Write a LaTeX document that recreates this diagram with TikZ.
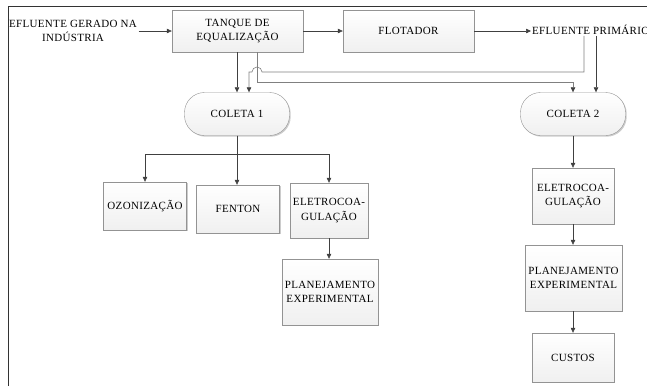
\documentclass[tikz,border=0pt]{standalone}
\usepackage{fontspec}
\setmainfont{Liberation Serif}[LetterSpace=3]
\usetikzlibrary{arrows.meta,shadows}
\begin{document}
\begin{tikzpicture}[x=1pt,y=-1pt,
	every node/.style={font=\fontsize{11}{14.5}\selectfont,align=center,inner sep=1.5pt},
	box/.style={draw=gray!85,top color=white,bottom color=gray!12,
		drop shadow={shadow xshift=1.2pt,shadow yshift=-1.2pt,fill=gray!40,opacity=1}},
	coleta/.style={box,rounded corners=20pt,minimum width=105pt,minimum height=43pt},
	arr/.style={draw=black!75,line width=0.6pt,-{Triangle[length=5pt,width=4.5pt]}},
	garr/.style={draw=gray,line width=0.6pt,-{Triangle[length=5pt,width=4.5pt,color=black!75]}}]
\useasboundingbox (0,0) rectangle (647,386);
% moldura
\draw[black!80,line width=0.8pt] (8,386) -- (8,6) -- (647,6);
% linha de cima
\node (gerado) at (73,31) {EFLUENTE GERADO NA\\INDÚSTRIA};
\node[box,minimum width=131pt,minimum height=42pt] (tanque) at (237.5,31) {TANQUE DE\\EQUALIZAÇÃO};
\node[box,minimum width=131pt,minimum height=42pt] (flotador) at (408.5,31) {FLOTADOR};
\node[anchor=west,inner sep=1pt] (primario) at (531,30) {EFLUENTE PRIMÁRIO};
% coletas
\node[coleta] (coleta1) at (237,114) {COLETA 1};
\node[coleta] (coleta2) at (573,114) {COLETA 2};
% ramo 1
\node[box,minimum width=83pt,minimum height=48pt] (ozonio) at (145,206) {OZONIZAÇÃO};
\node[box,minimum width=83pt,minimum height=48pt] (fenton) at (238,209) {FENTON};
\node[box,minimum width=78pt,minimum height=55pt] (eletro1) at (329,210.5) {ELETROCOA-\\GULAÇÃO};
\node[box,minimum width=96pt,minimum height=66pt] (plan1) at (330,292) {PLANEJAMENTO\\EXPERIMENTAL};
% ramo 2
\node[box,minimum width=82pt,minimum height=56pt] (eletro2) at (573,196) {ELETROCOA-\\GULAÇÃO};
\node[box,minimum width=97pt,minimum height=66pt] (plan2) at (573.5,278) {PLANEJAMENTO\\EXPERIMENTAL};
\node[box,minimum width=82pt,minimum height=49pt] (custos) at (573,357.5) {CUSTOS};
% ligacoes
\coordinate (dobraR) at (584,72);
\coordinate (salto) at ([xshift=19.5pt]tanque.south |- dobraR);
\coordinate (chegada2) at ([xshift=23pt]coleta2.north);
\draw[arr] (gerado.east |- tanque.west) -- (tanque.west);
\draw[arr] (tanque.east) -- (flotador.west);
\draw[arr] (flotador.east) -- (flotador.east -| primario.west);
\draw[arr] (tanque.south -| coleta1.north) -- (coleta1.north);
\draw[garr] ([xshift=19.5pt]tanque.south) -- ++(0,30) -| (coleta2.north);
\draw[garr] (primario.south -| dobraR) -- (dobraR) -- ([xshift=5pt]salto)
	arc[start angle=0,end angle=180,radius=5pt] -- ([xshift=-5pt]salto)
	-| ([xshift=12pt]coleta1.north);
\draw[arr] (primario.south -| chegada2) -- (chegada2);
\draw[arr] (coleta1.south) -- ++(0,19) -| (ozonio.north);
\draw[arr] (coleta1.south) -- ++(0,19) -| (eletro1.north);
\draw[arr] (coleta1.south) -- (coleta1.south |- fenton.north);
\draw[arr] (eletro1.south) -- (eletro1.south |- plan1.north);
\draw[arr] (coleta2.south) -- (eletro2.north);
\draw[arr] (eletro2.south) -- (eletro2.south |- plan2.north);
\draw[arr] (plan2.south -| custos.north) -- (custos.north);
\end{tikzpicture}
\end{document}
